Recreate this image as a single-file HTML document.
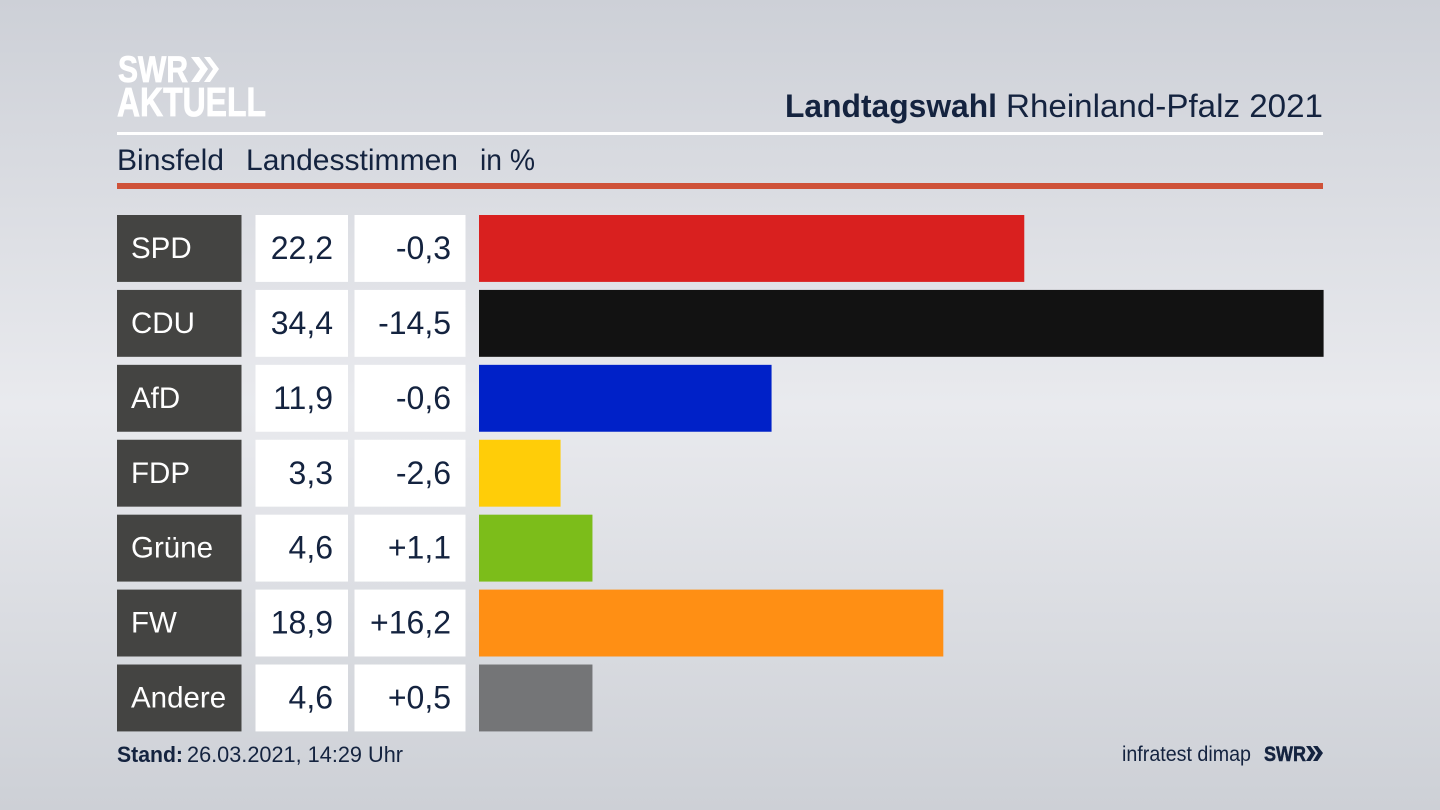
<!DOCTYPE html>
<html lang="de">
<head>
<meta charset="utf-8">
<title>Landtagswahl Rheinland-Pfalz 2021</title>
<style>
html,body{margin:0;padding:0;width:1440px;height:810px;overflow:hidden;background:#dfe1e6}
svg{display:block}
text{font-family:"Liberation Sans",sans-serif}
</style>
</head>
<body>
<svg id="chart" width="1440" height="810" viewBox="0 0 1440 810" xmlns="http://www.w3.org/2000/svg">
  <defs>
    <linearGradient id="bg" x1="0" y1="0" x2="0" y2="1">
      <stop offset="0" stop-color="#cdd0d7"/>
      <stop offset="0.5" stop-color="#e9eaee"/>
      <stop offset="1" stop-color="#cdd0d6"/>
    </linearGradient>
  </defs>
  <rect width="1440" height="810" fill="url(#bg)"/>

  <g fill="#ffffff" stroke="#ffffff" stroke-width="0.8">
    <text x="118" y="82" font-size="37" font-weight="700" textLength="70" lengthAdjust="spacingAndGlyphs">SWR</text>
    <path d="M191 57h8l9 12-9 13h-8l9-13zM204 57h6l9 12-9 13h-6l9-13z" stroke="none"/>
    <text x="117" y="116" font-size="41" font-weight="700" textLength="149" lengthAdjust="spacingAndGlyphs">AKTUELL</text>
  </g>

  <g fill="#14233f" font-size="32">
    <text x="785" y="117" font-weight="700" textLength="212" lengthAdjust="spacingAndGlyphs">Landtagswahl</text>
    <text x="1006" y="117" textLength="317" lengthAdjust="spacingAndGlyphs">Rheinland-Pfalz 2021</text>
  </g>
  <rect x="117" y="132" width="1206" height="3" fill="#ffffff"/>

  <g fill="#14233f" font-size="30">
    <text x="117" y="170" textLength="107" lengthAdjust="spacingAndGlyphs">Binsfeld</text>
    <text x="246" y="170" textLength="212" lengthAdjust="spacingAndGlyphs">Landesstimmen</text>
    <text x="480" y="170" textLength="55" lengthAdjust="spacingAndGlyphs">in %</text>
  </g>
  <rect x="117" y="183" width="1206" height="6" fill="#cf5239"/>

  <g id="rows"></g>

  <g fill="#14233f" font-size="22">
    <text x="117" y="762" font-weight="700" textLength="66" lengthAdjust="spacingAndGlyphs">Stand:</text>
    <text x="187" y="762" textLength="216" lengthAdjust="spacingAndGlyphs">26.03.2021, 14:29 Uhr</text>
  </g>
  <g fill="#14233f">
    <text x="1122" y="761" font-size="21" textLength="129" lengthAdjust="spacingAndGlyphs">infratest dimap</text>
    <text x="1264" y="761" font-size="21" font-weight="700" stroke="#14233f" stroke-width="0.5" textLength="42" lengthAdjust="spacingAndGlyphs">SWR</text>
    <path d="M1306 746h4.500l5 7-5 8h-4.500l5-8zM1313 746h4.500l5.500 7-5.500 8h-4.500l5-8z"/>
  </g>
</svg>
<script>
const parties = ["SPD", "CDU", "AfD", "FDP", "Grüne", "FW", "Andere"];
const shares = [22.2, 34.4, 11.9, 3.3, 4.6, 18.9, 4.6];
const changes = [-0.3, -14.5, -0.6, -2.6, 1.1, 16.2, 0.5];
const barColors = ["#d9201f", "#121212", "#0021c8", "#ffcd08", "#7cbd1a", "#ff8f14", "#747577"];

const NS = "http://www.w3.org/2000/svg";
const rowsGroup = document.getElementById("rows");
const maxShare = 34.4;
const barLeft = 479;
const barMaxWidth = 844;
const rowTop = 215;
const rowStep = 74.92;
const rowHeight = 66.9;

function xScale(v) { return v / maxShare * barMaxWidth + 0.6; }
function yScale(i) { return rowTop + i * rowStep; }
function formatShare(v) { return v.toFixed(1).replace(".", ","); }
function formatChange(v) { return (v > 0 ? "+" : "-") + Math.abs(v).toFixed(1).replace(".", ","); }

function makeRect(x, y, w, h, fill) {
  const r = document.createElementNS(NS, "rect");
  r.setAttribute("x", x);
  r.setAttribute("y", y);
  r.setAttribute("width", w);
  r.setAttribute("height", h);
  r.setAttribute("fill", fill);
  return r;
}
function makeText(x, y, str, size, fill, anchor) {
  const t = document.createElementNS(NS, "text");
  t.setAttribute("x", x);
  t.setAttribute("y", y);
  t.setAttribute("font-size", size);
  t.setAttribute("fill", fill);
  t.setAttribute("text-anchor", anchor);
  t.textContent = str;
  return t;
}

parties.forEach(function (party, i) {
  const y = yScale(i);
  const key = party.toLowerCase();

  const labelBox = makeRect(117, y, 124.5, rowHeight, "#444442");
  
  
  rowsGroup.appendChild(labelBox);

  const labelText = makeText(131, y + 43, party, 29.5, "#ffffff", "start");
  
  
  rowsGroup.appendChild(labelText);

  const shareBox = makeRect(255.500, y, 92.500, rowHeight, "#ffffff");
  
  
  rowsGroup.appendChild(shareBox);

  const shareText = makeText(333, y + 44, formatShare(shares[i]), 32, "#14233f", "end");
  
  
  rowsGroup.appendChild(shareText);

  const changeBox = makeRect(354.500, y, 111, rowHeight, "#ffffff");
  
  
  rowsGroup.appendChild(changeBox);

  const changeText = makeText(451, y + 44, formatChange(changes[i]), 32, "#14233f", "end");
  
  
  rowsGroup.appendChild(changeText);

  const bar = makeRect(barLeft, y, xScale(shares[i]), rowHeight, barColors[i]);
  
  
  rowsGroup.appendChild(bar);
});
</script>
</body>
</html>
